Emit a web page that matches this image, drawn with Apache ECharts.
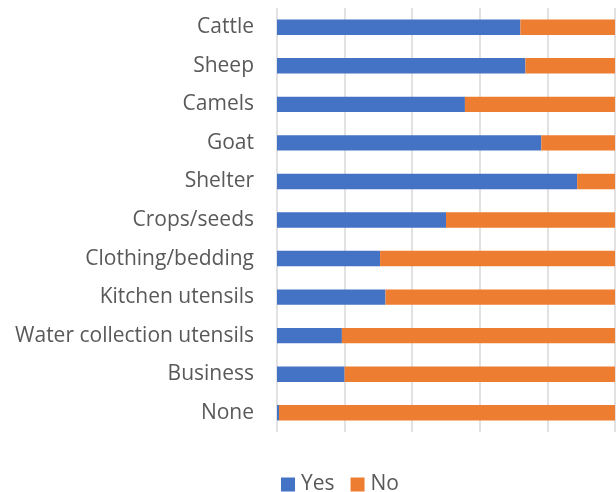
<!DOCTYPE html>
<html>
<head>
<meta charset="utf-8">
<script src="https://cdn.jsdelivr.net/npm/echarts@6/dist/echarts.min.js"></script>
<style>
  html, body { margin: 0; padding: 0; background: #fff; }
  #chart { width: 616px; height: 492px; }
</style>
</head>
<body>
<div id="chart"></div>
<script>
// Share of households reporting each asset type (percent)
const categories = ['Cattle', 'Sheep', 'Camels', 'Goat', 'Shelter', 'Crops/seeds',
  'Clothing/bedding', 'Kitchen utensils', 'Water collection utensils', 'Business', 'None'];
const yesValues = [72, 73.5, 55.6, 78.2, 88.8, 50, 30.5, 32.1, 19.2, 20, 0.6];
const noValues = yesValues.map(v => +(100 - v).toFixed(1));
const seriesNames = ['Yes', 'No'];

const font = 'Open Sans, Liberation Sans, sans-serif';
const chart = echarts.init(document.getElementById('chart'), null, { renderer: 'canvas' });
chart.setOption({
  animation: false,
  grid: { left: 277, right: 1, top: 8, bottom: 60, containLabel: false },
  legend: {
    data: seriesNames,
    left: 276,
    top: 469,
    itemWidth: 14,
    itemHeight: 14,
    itemGap: 16,
    icon: 'rect',
    textStyle: { color: '#595959', fontSize: 21, fontFamily: font, padding: [0, 0, 0, 1] }
  },
  xAxis: {
    type: 'value',
    min: 0,
    max: 100,
    interval: 20,
    axisLabel: { show: false },
    axisLine: { show: false },
    axisTick: { show: false },
    splitLine: { show: true, lineStyle: { color: '#d9d9d9', width: 1.5 } }
  },
  yAxis: {
    type: 'category',
    inverse: true,
    data: categories,
    axisLine: { show: false },
    axisTick: { show: false },
    axisLabel: { color: '#595959', fontSize: 21, fontFamily: font, margin: 23 }
  },
  series: [
    {
      name: seriesNames[0], type: 'bar', stack: 'total', data: yesValues,
      barWidth: '40%', itemStyle: { color: '#4472c4' }
    },
    {
      name: seriesNames[1], type: 'bar', stack: 'total', data: noValues,
      barWidth: '40%', itemStyle: { color: '#ed7d31' }
    }
  ]
});
</script>
</body>
</html>
